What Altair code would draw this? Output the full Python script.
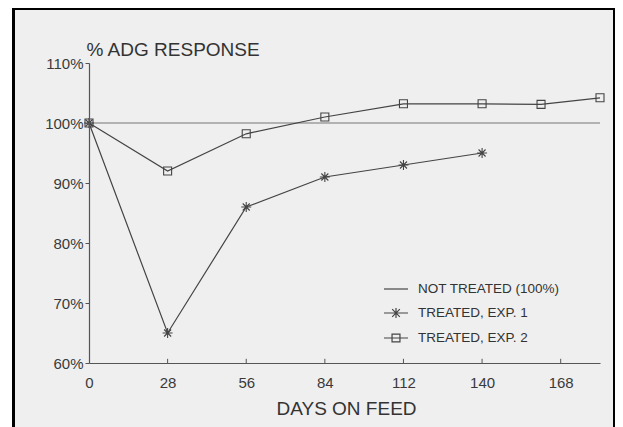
import altair as alt
import pandas as pd

# ---- data ----
series_names = ["NOT TREATED (100%)", "TREATED, EXP. 1", "TREATED, EXP. 2"]
days_ctrl = [0, 182]
resp_ctrl = [100, 100]
days_exp1 = [0, 28, 56, 84, 112, 140]
resp_exp1 = [100, 65, 86, 91, 93, 95]
days_exp2 = [0, 28, 56, 84, 112, 140, 161, 182]
resp_exp2 = [100, 92, 98.2, 101, 103.2, 103.2, 103.1, 104.2]
x_ticks = [0, 28, 56, 84, 112, 140, 168]
y_ticks = [60, 70, 80, 90, 100, 110]
inner_x_ticks = [28, 56, 84, 112, 140, 168]

rows = []
for name, ds, rs in zip(series_names, [days_ctrl, days_exp1, days_exp2],
                        [resp_ctrl, resp_exp1, resp_exp2]):
    for d, r in zip(ds, rs):
        rows.append({"day": d, "resp": r, "series": name})
df = pd.DataFrame(rows)
tick_df = pd.DataFrame({"day": inner_x_ticks, "y0": [60] * len(inner_x_ticks),
                        "y1": [60.7] * len(inner_x_ticks)})

FONT = "Liberation Sans"
INK = "#444444"

x_scale = alt.Scale(domain=[0, 182], nice=False, zero=False)
y_scale = alt.Scale(domain=[60, 110], nice=False, zero=False)

x_enc = alt.X("day:Q", scale=x_scale, axis=alt.Axis(
    values=x_ticks, ticks=False, grid=False, domainColor="#555555", domainWidth=1.2,
    labelFont=FONT, labelFontSize=15, labelColor="#3a3a3a", labelPadding=24,
    labelBaseline="alphabetic", labelFlush=False, zindex=2,
    title="DAYS ON FEED", titleFont=FONT, titleFontSize=19, titleFontWeight="normal",
    titleColor="#333333", titleBaseline="alphabetic", titleY=51, titleX=257,
    titleAlign="center"))
y_enc = alt.Y("resp:Q", scale=y_scale, axis=alt.Axis(
    values=y_ticks, labelExpr="datum.value + '%'", tickSize=4, tickColor="#555555",
    grid=False, domainColor="#555555", domainWidth=1.2, zindex=2,
    labelFont=FONT, labelFontSize=15, labelColor="#3a3a3a", labelPadding=2,
    labelFlush=False,
    title="% ADG RESPONSE", titleFont=FONT, titleFontSize=19, titleFontWeight="normal",
    titleColor="#333333", titleAngle=0, titleAlign="left", titleBaseline="alphabetic",
    titleX=-3, titleY=-8))

one = pd.DataFrame({"k": [0]})
# white strip left of the black frame, then the frame itself (no fill)
margin_strip = alt.Chart(one).mark_rect(fill="white", clip=False).encode(
    x=alt.value(-90), x2=alt.value(-76), y=alt.value(-70), y2=alt.value(420))
frame = alt.Chart(one).mark_rect(
    fill="transparent", stroke="black", strokeWidth=3, clip=False
).encode(x=alt.value(-75.5), x2=alt.value(525.5), y=alt.value(-54.5), y2=alt.value(420))

base = alt.Chart(df)

ctrl_line = base.transform_filter(alt.datum.series == series_names[0]).mark_line(
    strokeWidth=1.1, color="#777777").encode(x=x_enc, y=y_enc)
exp_lines = base.transform_filter(alt.datum.series != series_names[0]).mark_line(
    strokeWidth=1.2, color=INK).encode(x="day:Q", y="resp:Q", detail="series:N")

ast_path = "M-1,0H1M0,-1V1M-0.7,-0.7L0.7,0.7M-0.7,0.7L0.7,-0.7"
pts1 = base.transform_filter(alt.datum.series == series_names[1]).mark_point(
    shape=ast_path, size=100, filled=False, color=INK, strokeWidth=1.1, opacity=1
).encode(x="day:Q", y="resp:Q")
pts2 = base.transform_filter(alt.datum.series == series_names[2]).mark_point(
    shape="square", size=64, filled=False, color=INK, strokeWidth=1.1, opacity=1
).encode(x="day:Q", y="resp:Q")

xticks = alt.Chart(tick_df).mark_rule(color="#555555", strokeWidth=1).encode(
    x="day:Q", y="y0:Q", y2="y1:Q")

leg_paths = [
    "M-1,0H1",
    "M-1,0H1M0,-0.42V0.42M-0.32,-0.32L0.32,0.32M-0.32,0.32L0.32,-0.32",
    "M-1,0H1M-0.33,-0.33H0.33V0.33H-0.33Z",
]
# legend-only layer: no rows survive the filter, the legend comes from the scale domain
legend_layer = base.transform_filter("datum.day < -1").mark_point(
    filled=False, color=INK, size=576, opacity=1
).encode(
    x="day:Q", y="resp:Q",
    shape=alt.Shape("series:N", scale=alt.Scale(domain=series_names, range=leg_paths),
                    legend=alt.Legend(
                        title=None, orient="none", legendX=294, legendY=213,
                        padding=0, rowPadding=4, labelOffset=9, labelLimit=400,
                        labelFont=FONT, labelFontSize=13.5, labelColor="#333333",
                        symbolSize=576, symbolStrokeWidth=1.2, symbolStrokeColor=INK,
                        symbolFillColor="transparent", symbolOpacity=1, zindex=2)))

chart = alt.layer(margin_strip, frame, ctrl_line, exp_lines, xticks, pts1, pts2,
                  legend_layer).properties(
    width=511, height=300,
    autosize=alt.AutoSizeParams(type="none"),
    padding={"left": 81, "top": 55, "right": 15, "bottom": 64},
    background="#efefef",
).configure_view(stroke=None)

chart.save("out.html", embed_options={"renderer": "svg", "actions": False})
